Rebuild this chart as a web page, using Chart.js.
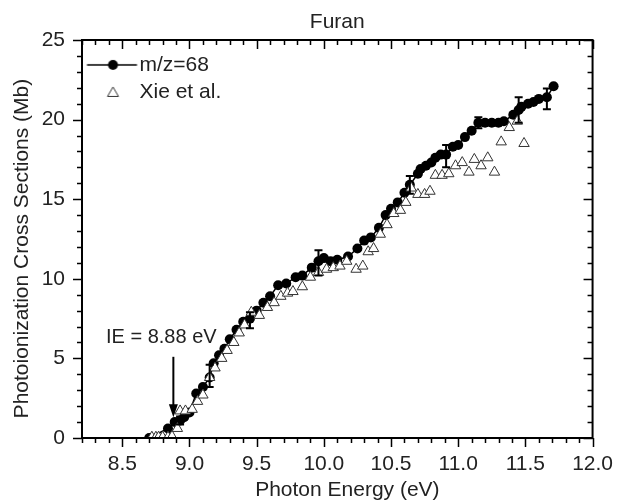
<!DOCTYPE html>
<html>
<head>
<meta charset="utf-8">
<script src="https://cdn.jsdelivr.net/npm/chart.js@4.4.0/dist/chart.umd.min.js"></script>
<style>
  html, body { margin: 0; padding: 0; background: #fff; }
</style>
</head>
<body>
<canvas id="myChart" width="627" height="502"></canvas>
<script>
// m/z=68 cross sections (photon energy in eV, cross section in Mb)
let mzEnergy = [8.70, 8.84, 8.89, 8.93, 8.96, 9.00, 9.05, 9.10, 9.15, 9.18, 9.22, 9.26, 9.30, 9.35, 9.40, 9.45,
  9.50, 9.55, 9.60, 9.66, 9.72, 9.79, 9.84, 9.91, 9.96, 10.00, 10.05, 10.10, 10.18, 10.25, 10.30, 10.35,
  10.41, 10.46, 10.50, 10.55, 10.60, 10.64, 10.70, 10.72, 10.76, 10.80, 10.83, 10.87, 10.91, 10.96, 11.00,
  11.05, 11.10, 11.15, 11.20, 11.25, 11.30, 11.34, 11.41, 11.45, 11.47, 11.52, 11.56, 11.60, 11.66, 11.71];
let mzSigma = [0.0, 0.6, 1.0, 1.1, 1.3, 1.6, 2.8, 3.2, 3.8, 4.7, 5.2, 5.6, 6.2, 6.8, 7.3, 7.5,
  8.0, 8.5, 8.9, 9.6, 9.7, 10.1, 10.2, 10.7, 11.1, 11.3, 11.1, 11.2, 11.4, 11.9, 12.4, 12.6,
  13.2, 14.0, 14.4, 14.8, 15.4, 15.9, 16.6, 16.9, 17.1, 17.3, 17.6, 17.8, 17.8, 18.3, 18.4,
  18.9, 19.3, 19.8, 19.8, 19.8, 19.8, 19.9, 20.3, 20.6, 20.8, 21.0, 21.1, 21.3, 21.4, 22.1];

// error bars on some of the m/z=68 points
let errEnergy = [8.93, 9.15, 9.45, 9.96, 10.64, 10.91, 11.15, 11.45, 11.66];
let errCenter = [1.1, 3.9, 7.4, 11.0, 15.9, 17.7, 19.8, 20.6, 21.3];
let errHalf = [0.25, 0.7, 0.5, 0.8, 0.55, 0.7, 0.35, 0.8, 0.65];

// Xie et al.
let xieEnergy = [8.72, 8.75, 8.77, 8.80, 8.84, 8.87, 8.91, 8.93, 8.97, 9.02, 9.06, 9.10, 9.15, 9.19, 9.24,
  9.28, 9.33, 9.37, 9.41, 9.46, 9.52, 9.58, 9.63, 9.68, 9.73, 9.77, 9.84, 9.90, 9.96, 10.02, 10.07,
  10.12, 10.17, 10.24, 10.29, 10.33, 10.37, 10.42, 10.47, 10.52, 10.57, 10.61, 10.65, 10.70, 10.75,
  10.79, 10.83, 10.88, 10.93, 10.98, 11.03, 11.08, 11.12, 11.17, 11.22, 11.27, 11.32, 11.38, 11.44, 11.49];
let xieSigma = [0.05, 0.05, 0.05, 0.05, 0.05, 0.1, 0.6, 1.7, 1.7, 1.8, 2.3, 2.7, 3.8, 4.4, 5.0,
  5.5, 6.0, 6.6, 7.1, 7.9, 7.7, 8.2, 8.5, 8.9, 9.1, 9.2, 9.5, 10.1, 10.4, 10.6, 10.7,
  10.8, 11.1, 10.6, 10.8, 11.7, 11.9, 12.8, 13.4, 14.1, 14.3, 14.8, 15.7, 15.3, 15.3,
  15.5, 16.5, 16.5, 16.6, 17.1, 17.3, 16.7, 17.5, 17.1, 17.6, 16.7, 18.6, 19.5, 19.9, 18.5];

let seriesNames = ['m/z=68', 'Xie et al.'];
let xTicks = [8.5, 9.0, 9.5, 10.0, 10.5, 11.0, 11.5, 12.0];
let yTicks = [0, 5, 10, 15, 20, 25];
let xTitle = 'Photon Energy (eV)';
let yTitle = 'Photoionization Cross Sections (Mb)';

// ionization energy arrow
let ieLabel = 'IE = 8.88 eV';
let ieEnergy = 8.88;
let ieArrow = [5.1, 1.3];
let ieTextPos = [8.79, 6.3];

let textColor = '#222';
let fontFam = '"Liberation Sans", Arial, sans-serif';

// small pictures for the legend (wider than the legend box, so the text sits close)
function legendIcon(kind) {
  let c = document.createElement('canvas');
  c.width = 66; c.height = 16;
  let g = c.getContext('2d');
  if (kind === 'line') {
    g.strokeStyle = '#000'; g.lineWidth = 1.5;
    g.beginPath(); g.moveTo(11.5, 8); g.lineTo(61.5, 8); g.stroke();
    g.fillStyle = '#000';
    g.beginPath(); g.arc(37.5, 8, 5, 0, Math.PI * 2); g.fill();
  } else {
    g.strokeStyle = '#333'; g.lineWidth = 1; g.fillStyle = '#fff';
    g.beginPath(); g.moveTo(37.5, 3); g.lineTo(43, 12.5); g.lineTo(32, 12.5); g.closePath();
    g.fill(); g.stroke();
  }
  return c;
}
let icons = [legendIcon('line'), legendIcon('tri')];

// frame, minor/major ticks, error bars, arrow, axis titles
let extras = {
  id: 'extras',
  afterDatasetsDraw(chart) {
    let ctx = chart.ctx, a = chart.chartArea;
    let xs = chart.scales.x, ys = chart.scales.y;
    ctx.save();
    ctx.strokeStyle = '#000';
    ctx.lineWidth = 2;
    ctx.strokeRect(a.left, a.top, a.right - a.left, a.bottom - a.top);

    ctx.lineWidth = 1.5;
    ctx.beginPath();
    for (let i = 82; i <= 120; i++) {
      let px = Math.round(xs.getPixelForValue(i / 10)) + 0.5;
      let len = (i % 5 === 0) ? 9 : 5;
      ctx.moveTo(px, a.bottom); ctx.lineTo(px, a.bottom + len);
      ctx.moveTo(px, a.top); ctx.lineTo(px, a.top + len);
    }
    for (let v = 0; v <= 25; v++) {
      let py = Math.round(ys.getPixelForValue(v)) + 0.5;
      let len = (v % 5 === 0) ? 9 : 5;
      ctx.moveTo(a.left, py); ctx.lineTo(a.left - len, py);
      ctx.moveTo(a.right, py); ctx.lineTo(a.right - len, py);
    }
    ctx.stroke();

    // error bars
    ctx.lineWidth = 2;
    ctx.beginPath();
    errEnergy.forEach((e, i) => {
      let px = xs.getPixelForValue(e);
      let t = ys.getPixelForValue(errCenter[i] + errHalf[i]);
      let b = ys.getPixelForValue(errCenter[i] - errHalf[i]);
      ctx.moveTo(px, t); ctx.lineTo(px, b);
      ctx.moveTo(px - 4, t); ctx.lineTo(px + 4, t);
      ctx.moveTo(px - 4, b); ctx.lineTo(px + 4, b);
    });
    ctx.stroke();

    // arrow at the ionization energy
    let ax = xs.getPixelForValue(ieEnergy);
    let y1 = ys.getPixelForValue(ieArrow[0]);
    let y2 = ys.getPixelForValue(ieArrow[1]);
    ctx.lineWidth = 2;
    ctx.beginPath(); ctx.moveTo(ax, y1); ctx.lineTo(ax, y2 - 10); ctx.stroke();
    ctx.fillStyle = '#000';
    ctx.beginPath(); ctx.moveTo(ax, y2); ctx.lineTo(ax - 4.5, y2 - 13); ctx.lineTo(ax + 4.5, y2 - 13); ctx.closePath(); ctx.fill();

    ctx.fillStyle = textColor;
    ctx.font = '20px ' + fontFam;
    ctx.textAlign = 'center';
    ctx.textBaseline = 'middle';
    ctx.fillText(ieLabel, xs.getPixelForValue(ieTextPos[0]), ys.getPixelForValue(ieTextPos[1]));

    // axis titles (the originals sit a bit off the plot centre)
    ctx.font = '21px ' + fontFam;
    ctx.fillText(xTitle, xs.getPixelForValue(10.175), chart.height - 12);
    ctx.translate(22, ys.getPixelForValue(11.9));
    ctx.rotate(-Math.PI / 2);
    ctx.fillText(yTitle, 0, 0);
    ctx.restore();
  }
};

let ctx = document.getElementById('myChart').getContext('2d');
let myChart = new Chart(ctx, {
  type: 'scatter',
  data: {
    datasets: [{
      label: seriesNames[0],
      data: mzEnergy.map((e, i) => ({x: e, y: mzSigma[i]})),
      showLine: true,
      borderColor: '#000',
      borderWidth: 1.5,
      backgroundColor: '#000',
      pointRadius: 5,
      pointBorderWidth: 0,
      pointStyle: 'circle',
      order: 1
    }, {
      label: seriesNames[1],
      data: xieEnergy.map((e, i) => ({x: e, y: xieSigma[i]})),
      showLine: false,
      borderColor: '#333',
      backgroundColor: '#fff',
      pointRadius: 6,
      pointBorderWidth: 1,
      pointStyle: 'triangle',
      order: 0
    }]
  },
  options: {
    responsive: false,
    animation: false,
    layout: { padding: { left: 0, right: 23, top: 0, bottom: 0 } },
    scales: {
      x: {
        type: 'linear',
        min: 8.2,
        max: 12.0,
        afterBuildTicks: (s) => { s.ticks = xTicks.map(v => ({value: v})); },
        afterFit: (s) => { s.height = 64; },
        grid: { display: false, drawTicks: false },
        border: { display: false },
        ticks: {
          padding: 14,
          color: textColor,
          font: { size: 21, family: fontFam },
          callback: (v) => v.toFixed(1)
        }
      },
      y: {
        min: 0,
        max: 25,
        afterBuildTicks: (s) => { s.ticks = yTicks.map(v => ({value: v})); },
        afterFit: (s) => { s.width = 82; },
        grid: { display: false, drawTicks: false },
        border: { display: false },
        ticks: {
          padding: 17,
          color: textColor,
          font: { size: 21, family: fontFam }
        }
      }
    },
    plugins: {
      title: {
        display: true,
        text: 'Furan',
        fullSize: false,
        color: textColor,
        font: { size: 21, weight: 'normal', family: fontFam },
        padding: { top: 10, bottom: 4.8 }
      },
      legend: {
        position: 'chartArea',
        align: 'start',
        title: { display: true, text: ' ', font: { size: 2 }, padding: { top: 46, bottom: 0 } },
        labels: {
          usePointStyle: true,
          pointStyleWidth: 41,
          padding: 6,
          color: textColor,
          font: { size: 21, family: fontFam },
          sort: (a, b) => a.datasetIndex - b.datasetIndex,
          generateLabels: (chart) => {
            let items = Chart.defaults.plugins.legend.labels.generateLabels(chart);
            items.forEach(it => { it.pointStyle = icons[it.datasetIndex]; });
            return items;
          }
        }
      },
      tooltip: { enabled: false }
    }
  },
  plugins: [extras]
});
</script>
</body>
</html>
